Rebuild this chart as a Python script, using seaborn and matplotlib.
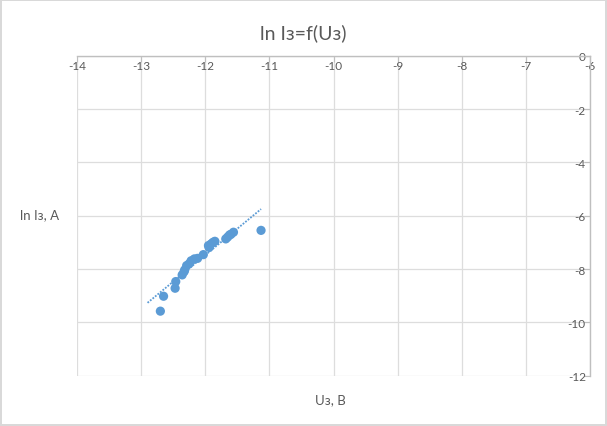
import numpy as np
import matplotlib
matplotlib.use("Agg")
import matplotlib.pyplot as plt
import seaborn as sns

# data
u_z = [-12.70, -12.65, -12.47, -12.46, -12.36, -12.33, -12.32, -12.29, -12.25,
       -12.22, -12.17, -12.12, -12.03, -11.95, -11.94, -11.91, -11.88, -11.85,
       -11.68, -11.65, -11.62, -11.60, -11.56, -11.13]
ln_i = [-9.58, -9.02, -8.72, -8.47, -8.22, -8.10, -8.03, -7.87, -7.80,
        -7.69, -7.62, -7.60, -7.46, -7.12, -7.19, -7.06, -7.00, -6.96,
        -6.87, -6.80, -6.72, -6.70, -6.62, -6.55]
x_ticks = [-14, -13, -12, -11, -10, -9, -8, -7, -6]
y_ticks = [0, -2, -4, -6, -8, -10, -12]

sns.set_style("white")
plt.rcParams["font.family"] = ["Lato", "DejaVu Sans"]

blue = "#5B9BD5"
grey_txt = "#595959"

fig = plt.figure(figsize=(6.07, 4.27), dpi=100)
fig.patch.set_edgecolor("#D9D9D9")
fig.patch.set_linewidth(1.5)
ax = fig.add_axes([77 / 607, 1 - 376.7 / 427, (590 - 77) / 607, (376.7 - 56.7) / 427])

# linear trendline (backward forecast 0.2)
k, b = np.polyfit(u_z, ln_i, 1)
xs = np.linspace(min(u_z) - 0.2, max(u_z), 50)
ax.plot(xs, k * xs + b, color=blue, lw=1.3, ls=(0, (1, 0.8)), zorder=2)

sns.scatterplot(x=u_z, y=ln_i, color=blue, s=44, edgecolor="none", ax=ax, zorder=3)

ax.set_xlim(-14, -6)
ax.set_ylim(-12, 0)
ax.set_xticks(x_ticks)
ax.set_yticks(y_ticks)
ax.set_xticklabels([str(v) for v in x_ticks])
ax.set_yticklabels([str(v) for v in y_ticks])
ax.grid(True, color="#DDDDDD", lw=0.9)
ax.set_axisbelow(True)

for s in ["left", "bottom"]:
    ax.spines[s].set_visible(False)
for s in ["top", "right"]:
    ax.spines[s].set_color("#BFBFBF")
    ax.spines[s].set_linewidth(1)

ax.xaxis.tick_top()
ax.yaxis.tick_right()
ax.tick_params(axis="x", top=True, bottom=False, labeltop=True, labelbottom=False,
               direction="in", length=4, color="#BFBFBF", labelsize=8.5,
               labelcolor=grey_txt, pad=-3)
ax.tick_params(axis="y", right=True, left=False, labelright=True, labelleft=False,
               direction="in", length=4, color="#BFBFBF", labelsize=8.5,
               labelcolor=grey_txt, pad=-3)
for t in ax.get_xticklabels():
    t.set_verticalalignment("top")
for t in ax.get_yticklabels():
    t.set_horizontalalignment("right")

ax.set_xlabel("")
ax.set_ylabel("")
fig.text(303 / 607, 1 - 33 / 427, "ln Iз=f(Uз)", ha="center", va="center",
         fontsize=14, color=grey_txt)
fig.text(40 / 607, 1 - 215 / 427, "ln Iз, A", ha="center", va="center",
         fontsize=9.5, color=grey_txt)
fig.text(330 / 607, 1 - 400 / 427, "Uз, В", ha="center", va="center",
         fontsize=9.5, color=grey_txt)

fig.savefig("out.png", dpi=100)
